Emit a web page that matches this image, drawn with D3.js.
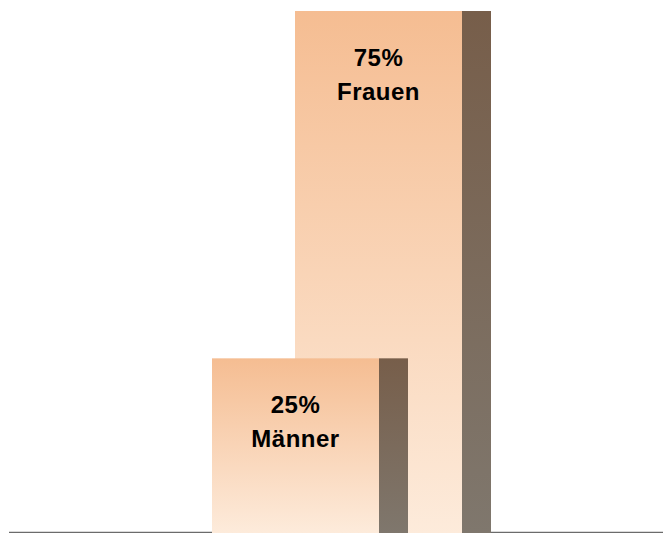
<!DOCTYPE html>
<html>
<head>
<meta charset="utf-8">
<script src="https://cdn.jsdelivr.net/npm/d3@7"></script>
<style>
  body { margin: 0; background: #fff; }
  svg { display: block; }
</style>
</head>
<body>
<svg id="chart" width="663" height="533"></svg>
<script>
const categories = ['Frauen', 'Männer']   // back bar first, front bar drawn on top
const values = [75, 25]
const labels = ['75%', '25%']

const svg = d3.select('#chart')
const width = 663
const baseY = 532

const yScale = d3.scaleLinear()
  .domain([0, 75])
  .range([baseY, 11])

// bars overlap: each one is shifted left of the previous one
const xScale = d3.scalePoint()
  .domain(categories)
  .range([295, 212])

const frontW = 167
const sideW = 29

const defs = svg.append('defs')
const face = defs.append('linearGradient')
  .attr('id', 'face').attr('x1', 0).attr('y1', 0).attr('x2', 0).attr('y2', 1)
face.append('stop').attr('offset', '0%').attr('stop-color', '#f5bd92')
face.append('stop').attr('offset', '100%').attr('stop-color', '#fdebdb')

const side = defs.append('linearGradient')
  .attr('id', 'side').attr('x1', 0).attr('y1', 0).attr('x2', 0).attr('y2', 1)
side.append('stop').attr('offset', '0%').attr('stop-color', '#775e4a')
side.append('stop').attr('offset', '100%').attr('stop-color', '#7f776d')

// baseline
svg.append('line')
  .attr('x1', 9).attr('x2', width)
  .attr('y1', baseY + 0.5).attr('y2', baseY + 0.5)
  .attr('stroke', '#6b6b6b')
  .attr('stroke-width', 1.5)

const bars = svg.selectAll('g.bar')
  .data(categories)
  .enter()
  .append('g')
  .attr('class', 'bar')

bars.append('rect')
  .attr('x', d => xScale(d))
  .attr('y', (d, i) => yScale(values[i]))
  .attr('width', frontW)
  .attr('height', (d, i) => 533 - yScale(values[i]))
  .attr('fill', 'url(#face)')

bars.append('rect')
  .attr('x', d => xScale(d) + frontW)
  .attr('y', (d, i) => yScale(values[i]))
  .attr('width', sideW)
  .attr('height', (d, i) => 533 - yScale(values[i]))
  .attr('fill', 'url(#side)')

const txt = bars.append('text')
  .attr('text-anchor', 'middle')
  .attr('font-family', '"Liberation Sans", Arial, sans-serif')
  .attr('font-weight', 'bold')
  .attr('font-size', 24)
  .attr('letter-spacing', 0.5)
  .attr('fill', '#000')

txt.append('tspan')
  .attr('x', d => xScale(d) + frontW / 2)
  .attr('y', (d, i) => yScale(values[i]) + 55)
  .text((d, i) => labels[i])

txt.append('tspan')
  .attr('x', d => xScale(d) + frontW / 2)
  .attr('y', (d, i) => yScale(values[i]) + 89)
  .text(d => d)
</script>
</body>
</html>
